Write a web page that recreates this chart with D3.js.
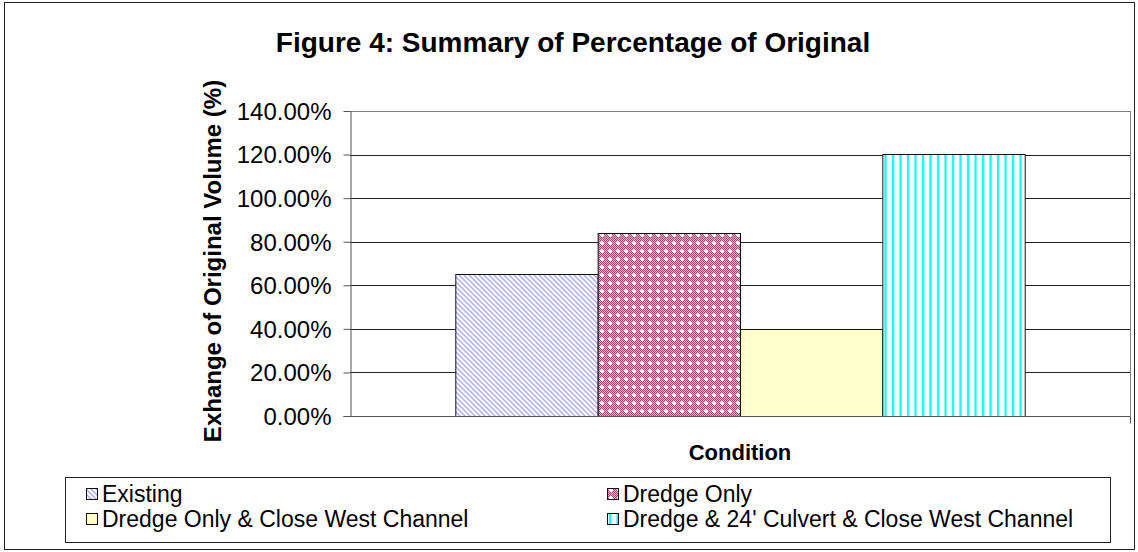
<!DOCTYPE html>
<html>
<head>
<meta charset="utf-8">
<script src="https://cdn.jsdelivr.net/npm/d3@7"></script>
<style>
  body { margin: 0; background: #fff; }
  text { font-family: "Liberation Sans", Arial, sans-serif; }
</style>
</head>
<body>
<div id="chart"></div>
<script>
// data
var categories = ["Existing", "Dredge Only", "Dredge Only & Close West Channel", "Dredge & 24' Culvert & Close West Channel"];
var values = [0.65, 0.841, 0.40, 1.204];
var yTicks = [0, 0.2, 0.4, 0.6, 0.8, 1.0, 1.2, 1.4];
var fills = ["url(#pExisting)", "url(#pDredge)", "#ffffcc", "url(#pCulvert)"];

var svgWidth = 1138, svgHeight = 552;
var margin = {top: 111, right: 8, bottom: 136, left: 350};
var width = 1130 - margin.left;
var height = 416 - margin.top;

var svg = d3.select("#chart").append("svg")
    .attr("width", svgWidth)
    .attr("height", svgHeight);

// patterns
var defs = svg.append("defs");

var p1 = defs.append("pattern").attr("id", "pExisting")
    .attr("patternUnits", "userSpaceOnUse").attr("width", 5).attr("height", 5);
p1.append("rect").attr("width", 5).attr("height", 5).attr("fill", "#fff");
p1.append("path").attr("d", "M-1,-1 L6,6 M-4,1 L1,6 M1,-4 L6,1")
    .attr("stroke", "#aeaeff").attr("stroke-width", 1.5);

var p2 = defs.append("pattern").attr("id", "pDredge")
    .attr("patternUnits", "userSpaceOnUse").attr("width", 8).attr("height", 8);
p2.append("rect").attr("width", 8).attr("height", 8).attr("fill", "#a04874");
for (var i = 0; i < 8; i++) {
    for (var j = 0; j < 8; j++) {
        if ((i + j) % 2 === 0) {
            p2.append("rect").attr("x", i).attr("y", j).attr("width", 1).attr("height", 1).attr("fill", "#deb0c6");
        }
    }
}
p2.append("rect").attr("x", 3).attr("y", 2).attr("width", 2).attr("height", 4).attr("fill", "#fff");
p2.append("rect").attr("x", 2).attr("y", 3).attr("width", 4).attr("height", 2).attr("fill", "#fff");

var p3 = defs.append("pattern").attr("id", "pCulvert")
    .attr("patternUnits", "userSpaceOnUse").attr("width", 7.5).attr("height", 8);
p3.append("rect").attr("width", 7.5).attr("height", 8).attr("fill", "#fff");
p3.append("rect").attr("x", 2).attr("width", 2.2).attr("height", 8).attr("fill", "#00ffff");

// outer border
svg.append("rect")
    .attr("x", 4.5).attr("y", 2.5)
    .attr("width", 1130).attr("height", 547)
    .attr("fill", "none").attr("stroke", "#222").attr("stroke-width", 1);

// title
svg.append("text")
    .attr("x", 573).attr("y", 52)
    .attr("text-anchor", "middle")
    .attr("font-size", "28px").attr("font-weight", "bold")
    .text("Figure 4: Summary of Percentage of Original");

var chartGroup = svg.append("g")
    .attr("transform", `translate(${margin.left}, ${margin.top})`);

// scales
var xBand = d3.scaleBand().domain(["Condition"]).range([0, width]);
var xInner = d3.scaleBand().domain(categories)
    .range([xBand.bandwidth() * 0.135, xBand.bandwidth() * 0.865]);
var yLinearScale = d3.scaleLinear().domain([0, 1.4]).range([height, 0]);

// gridlines
chartGroup.append("g")
    .selectAll("line")
    .data(yTicks.slice(1))
    .enter()
    .append("line")
    .attr("x1", 0).attr("x2", width)
    .attr("y1", d => Math.round(yLinearScale(d)) + 0.5)
    .attr("y2", d => Math.round(yLinearScale(d)) + 0.5)
    .attr("stroke", d => d === 1.4 ? "#808080" : "#222")
    .attr("stroke-width", 1);

// plot area right border
chartGroup.append("line")
    .attr("x1", width + 0.5).attr("x2", width + 0.5)
    .attr("y1", 0).attr("y2", height)
    .attr("stroke", "#808080");

// bars
chartGroup.selectAll(".bar")
    .data(values)
    .enter()
    .append("rect")
    .classed("bar", true)
    .attr("x", (d, i) => xInner(categories[i]) + 0.5)
    .attr("y", d => Math.round(yLinearScale(d)) + 0.5)
    .attr("width", xInner.bandwidth())
    .attr("height", d => height - Math.round(yLinearScale(d)))
    .attr("fill", (d, i) => fills[i])
    .attr("stroke", "#111")
    .attr("stroke-width", 1);

// y axis
var leftAxis = d3.axisLeft(yLinearScale)
    .tickValues(yTicks)
    .tickSize(7)
    .tickPadding(12)
    .tickFormat(d3.format(".2%"));

var yAxis = chartGroup.append("g")
    .attr("transform", "translate(0.5,0)")
    .call(leftAxis);
yAxis.select(".domain").attr("stroke", "#555").attr("d", `M-7,${height + 0.5}H0.5V0.5`);
yAxis.selectAll(".tick line").attr("stroke", "#555");
yAxis.selectAll("text")
    .attr("font-size", "24px")
    .attr("font-family", "'Liberation Sans', Arial, sans-serif")
    .attr("fill", "#000")
    .attr("dy", "0.35em");

// x axis line
var bottomAxis = d3.axisBottom(xBand).tickSize(0).tickFormat("");
var xAxis = chartGroup.append("g")
    .attr("transform", `translate(0, ${height + 0.5})`)
    .call(bottomAxis);
xAxis.select(".domain").attr("stroke", "#555").attr("d", `M0,0H${width + 0.5}V7`);

// axis labels
svg.append("text")
    .attr("transform", "translate(221, 261) rotate(-90)")
    .attr("text-anchor", "middle")
    .attr("font-size", "24px").attr("font-weight", "bold")
    .text("Exhange of Original Volume (%)");

svg.append("text")
    .attr("x", 740).attr("y", 460)
    .attr("text-anchor", "middle")
    .attr("font-size", "22px").attr("font-weight", "bold")
    .text("Condition");

// legend
var legend = svg.append("g");
legend.append("rect")
    .attr("x", 65.5).attr("y", 477.5)
    .attr("width", 1045).attr("height", 65)
    .attr("fill", "#fff").attr("stroke", "#222");

var legendItems = legend.selectAll(".legendItem")
    .data(categories)
    .enter()
    .append("g")
    .classed("legendItem", true)
    .attr("transform", (d, i) => `translate(${i % 2 === 0 ? 86 : 607}, ${i < 2 ? 494 : 519})`);

legendItems.append("rect")
    .attr("x", 0.5).attr("y", -5.5)
    .attr("width", 11).attr("height", 11)
    .attr("fill", (d, i) => fills[i])
    .attr("stroke", "#111");

legendItems.append("text")
    .attr("x", 16).attr("y", 0)
    .attr("dy", "0.36em")
    .attr("font-size", "23px")
    .text(d => d);
</script>
</body>
</html>
